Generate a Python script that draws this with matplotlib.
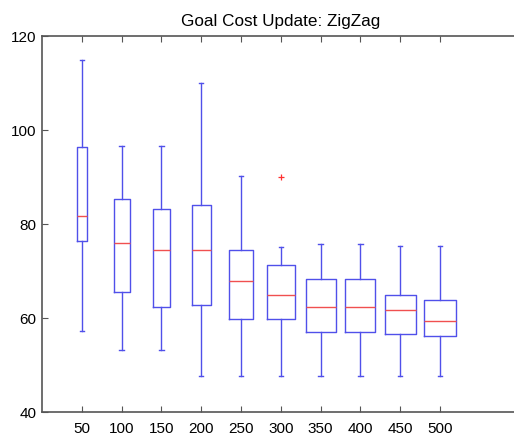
import matplotlib
matplotlib.use("Agg")
import matplotlib.pyplot as plt

# goal cost per update interval
labels = ["50", "100", "150", "200", "250", "300", "350", "400", "450", "500"]
whisk_lo = [57.2, 53.1, 53.1, 47.7, 47.7, 47.7, 47.7, 47.7, 47.7, 47.7]
q1 = [76.4, 65.5, 62.3, 62.8, 59.8, 59.8, 57.0, 57.0, 56.5, 56.1]
med = [81.7, 76.0, 74.5, 74.5, 67.9, 65.0, 62.3, 62.3, 61.6, 59.4]
q3 = [96.4, 85.3, 83.1, 84.0, 74.5, 71.3, 68.3, 68.3, 65.0, 63.8]
whisk_hi = [115.0, 96.6, 96.6, 109.9, 90.2, 75.2, 75.8, 75.8, 75.3, 75.3]
outliers = [[], [], [], [], [], [90.1], [], [], [], []]

# box widths vary in the original figure
widths = [0.25, 0.40, 0.445, 0.485, 0.595, 0.71, 0.75, 0.75, 0.77, 0.80]

stats = []
for i in range(len(labels)):
    stats.append({
        "whislo": whisk_lo[i], "q1": q1[i], "med": med[i],
        "q3": q3[i], "whishi": whisk_hi[i], "fliers": outliers[i],
    })

plt.rcParams["font.family"] = ["Liberation Sans", "DejaVu Sans"]

fig = plt.figure(figsize=(5.14, 4.37), dpi=100)
# the original is cut off on the right, so the right border never shows
ax = fig.add_axes([42 / 514, 25 / 437, 472 / 514, 376 / 437])

blue = "#5050ea"
positions = list(range(1, len(labels) + 1))
ax.bxp(stats, positions=positions, widths=widths, capwidths=0.11,
       boxprops=dict(color=blue, lw=1.0),
       whiskerprops=dict(color=blue, lw=1.0, linestyle="-"),
       capprops=dict(color=blue, lw=1.0),
       medianprops=dict(color="#f05050", lw=1.0),
       flierprops=dict(marker="+", markeredgecolor="#ff3030", markersize=5,
                       markeredgewidth=0.9))

ax.set_xlim(0, 472 / 39.8)
ax.set_ylim(40, 120)
ax.set_xticks(positions)
ax.set_xticklabels(labels)
ax.set_yticks([40, 60, 80, 100, 120])
ax.tick_params(direction="in", length=4, width=0.8, color="#555555",
               labelsize=11, top=True, right=False)
ax.tick_params(axis="x", pad=7)
ax.tick_params(axis="y", pad=4)
for s in ax.spines.values():
    s.set_color("#555555")
    s.set_linewidth(1.2)
ax.spines["right"].set_visible(False)

ax.set_title("Goal Cost Update: ZigZag", fontsize=12.3, pad=7, x=0.505)

fig.savefig("out.png", dpi=100)
